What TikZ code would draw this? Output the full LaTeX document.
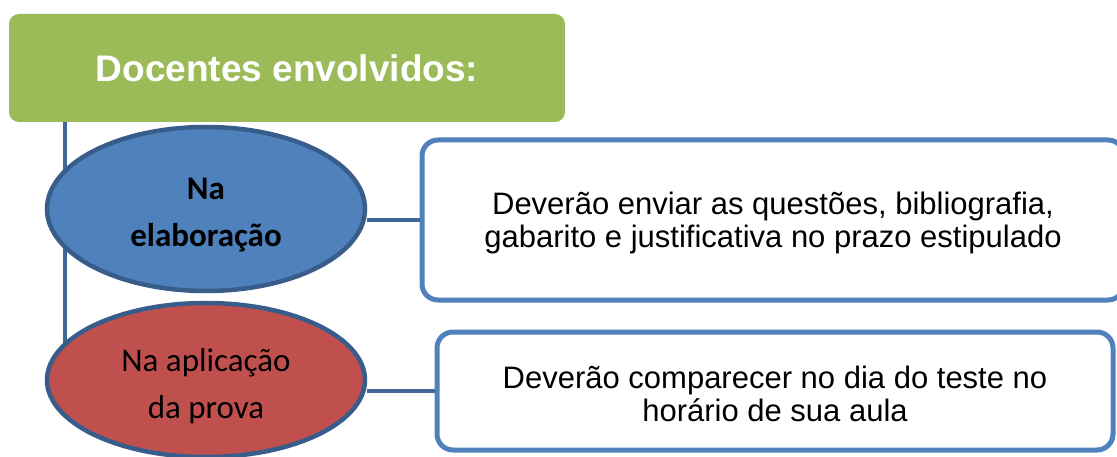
\documentclass[tikz,border=0pt]{standalone}
\usepackage{fontspec}
\setmainfont{Liberation Sans}
\newfontfamily\calibri{Carlito}
\definecolor{hdGreen}{RGB}{155, 187, 89}
\definecolor{elBlue}{RGB}{79, 129, 189}
\definecolor{elRed}{RGB}{192, 80, 77}
\definecolor{elEdge}{RGB}{56, 93, 138}
\definecolor{lnBlue}{RGB}{63, 103, 151}
\usetikzlibrary{shapes.geometric, positioning}

\begin{document}
\begin{tikzpicture}[x=1pt, y=-1pt]
  \useasboundingbox (0,0) rectangle (1117,457);
  \coordinate (spineTop) at (65,122);
  \coordinate (spineEnd) at (65,370);
  \draw[lnBlue, line width=4pt] (spineTop) -- (spineEnd);
  \node[fill=hdGreen, rounded corners=10pt, minimum width=556pt, minimum height=108pt, text=white, font=\fontsize{37}{40}\selectfont\bfseries] (head) at (287,68) {Docentes envolvidos:};
  \foreach \i/\ey/\eh/\col/\lab/\bx/\by/\bw/\bh/\txt in {
    1/209/164/elBlue/{{\bfseries Na}\\{\bfseries elaboração}}/773/220/702/160/{Deverão enviar as questões, bibliografia,\\gabarito e justificativa no prazo estipulado},
    2/380/154/elRed/{Na aplicação\\da prova}/775/391/676/118/{Deverão comparecer no dia do teste no\\horário de sua aula}%
  } {
    \node[ellipse, draw=elEdge, line width=4.5pt, fill=\col, minimum width=318pt, minimum height=\eh pt, inner sep=0pt, font=\calibri\fontsize{33}{47}\selectfont] (ell\i) at (206,\ey) {\raisebox{-6pt}[\height][\depth]{\parbox{180pt}{\centering\lab}}};
    \node[draw=elBlue, line width=5pt, fill=white, rounded corners=16pt, minimum width=\bw pt, minimum height=\bh pt, align=center, font=\fontsize{31}{33}\selectfont] (box\i) at (\bx,\by) {\raisebox{-3pt}[\height][\depth]{\parbox{640pt}{\centering\txt}}};
    \draw[lnBlue, line width=4pt] (box\i.west) -- (box\i.west -| ell\i.east);
  }
\end{tikzpicture}
\end{document}
